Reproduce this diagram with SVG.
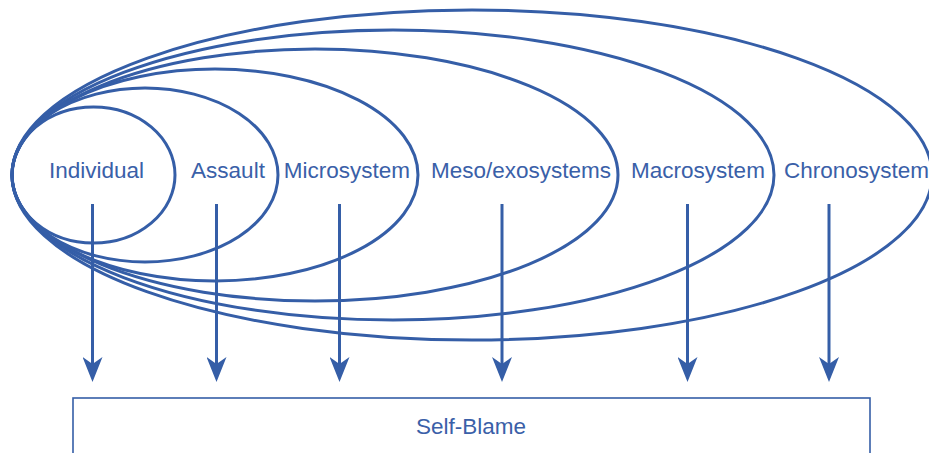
<svg xmlns="http://www.w3.org/2000/svg" width="929" height="453" viewBox="0 0 929 453">
  <defs>
    <style>
      .ring { fill: none; stroke: #355ea7; stroke-width: 3; }
      .lbl { font-family: "Liberation Sans", Arial, sans-serif; font-size: 22.5px; fill: #3a60a8; text-anchor: middle; }
      .arrow { stroke: #355ea7; stroke-width: 3; fill: none; }
      .box { fill: #ffffff; stroke: #355ea7; stroke-width: 1.6; }
    </style>
    <marker id="head" viewBox="0 0 25 20" refX="15" refY="10" markerWidth="25" markerHeight="20" markerUnits="userSpaceOnUse" orient="auto">
      <path d="M25,10 L0,0 L7,10 L0,20 Z" fill="#355ea7"/>
    </marker>
  </defs>
  <rect width="929" height="453" fill="#ffffff"/>

  <g id="chronosystem">
    <ellipse class="ring" cx="472" cy="175" rx="460" ry="165"/>
    <text class="lbl" x="784" y="178" style="text-anchor:start">Chronosystem</text>
  </g>
  <g id="macrosystem">
    <ellipse class="ring" cx="393" cy="175" rx="381" ry="145"/>
    <text class="lbl" x="698" y="178">Macrosystem</text>
  </g>
  <g id="meso-exosystems">
    <ellipse class="ring" cx="315" cy="175" rx="303" ry="126"/>
    <text class="lbl" x="521" y="178">Meso/exosystems</text>
  </g>
  <g id="microsystem">
    <ellipse class="ring" cx="215" cy="175" rx="203" ry="106"/>
    <text class="lbl" x="347" y="178">Microsystem</text>
  </g>
  <g id="assault">
    <ellipse class="ring" cx="145" cy="175" rx="133" ry="87"/>
    <text class="lbl" x="228" y="178">Assault</text>
  </g>
  <g id="individual">
    <ellipse class="ring" cx="93.5" cy="175" rx="81.5" ry="68"/>
    <text class="lbl" x="96.5" y="178">Individual</text>
  </g>

  <g id="connectors">
    <line class="arrow" x1="92.5" y1="204" x2="92.5" y2="372" marker-end="url(#head)"/>
    <line class="arrow" x1="216.5" y1="204" x2="216.5" y2="372" marker-end="url(#head)"/>
    <line class="arrow" x1="339.5" y1="204" x2="339.5" y2="372" marker-end="url(#head)"/>
    <line class="arrow" x1="502" y1="204" x2="502" y2="372" marker-end="url(#head)"/>
    <line class="arrow" x1="687.5" y1="204" x2="687.5" y2="372" marker-end="url(#head)"/>
    <line class="arrow" x1="829" y1="204" x2="829" y2="372" marker-end="url(#head)"/>
  </g>

  <g id="self-blame">
    <rect class="box" x="73" y="398" width="797" height="70"/>
    <text class="lbl" x="471" y="434">Self-Blame</text>
  </g>
</svg>
